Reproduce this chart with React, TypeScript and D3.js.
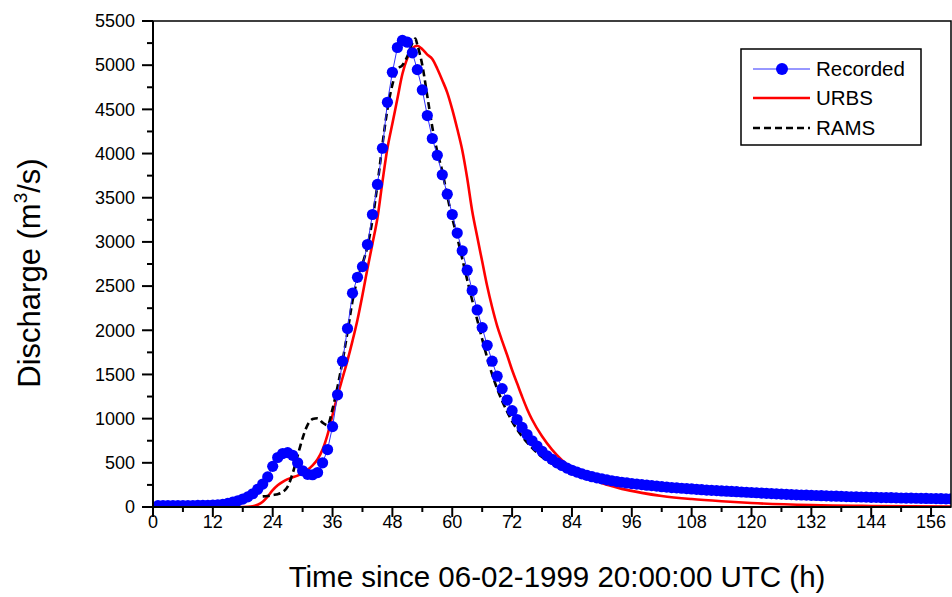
import React from "react";
import * as d3 from "d3";

// ---------- DATA ----------
const recordedStart = 1; // first hour of the recorded series
const recordedQ: number[] = [
  15, 15, 15, 15, 15, 16, 16, 17, 18, 19,
  20, 22, 25, 30, 40, 55, 70, 90, 115, 150,
  200, 260, 340, 460, 560, 605, 615, 585, 500, 410,
  370, 365, 390, 500, 650, 910, 1270, 1650, 2020, 2420,
  2600, 2720, 2970, 3310, 3650, 4060, 4580, 4920, 5200, 5280,
  5260, 5140, 4950, 4720, 4430, 4170, 3980, 3760, 3540, 3310,
  3100, 2900, 2680, 2450, 2230, 2030, 1830, 1650, 1480, 1340,
  1210, 1090, 990, 900, 820, 750, 690, 630, 580, 540,
  500, 470, 440, 415, 395, 375, 358, 343, 330, 318,
  307, 297, 288, 280, 272, 265, 259, 253, 247, 242,
  236, 230, 225, 220, 216, 212, 208, 204, 200, 196,
  192, 188, 185, 182, 179, 176, 173, 170, 167, 164,
  161, 158, 155, 152, 149, 146, 143, 141, 138, 136,
  134, 132, 130, 128, 126, 124, 122, 120, 118, 116,
  115, 113, 112, 110, 109, 107, 106, 105, 104, 102,
  101, 100, 99, 98, 97, 96, 95, 94, 93, 92,
];

const urbsT: number[] = [
  0, 17, 19, 20, 21, 22, 23, 24, 25, 26, 27, 28, 29, 30, 31, 32, 33, 34, 35, 36,
  37, 38, 39, 40, 41, 42, 43, 44, 45, 46, 47, 48, 49, 50, 51, 52, 53, 54, 55, 56,
  57, 58, 59, 60, 61, 62, 63, 64, 65, 66, 67, 68, 69, 70, 71, 72, 73, 74, 75, 76,
  78, 80, 82, 84, 86, 88, 90, 94, 98, 102, 108, 114, 120, 132, 144, 160,
];
const urbsQ: number[] = [
  0, 0, 2, 8, 25, 60, 120, 190, 245, 285, 315, 335, 355, 385, 420, 470, 540, 650, 820, 1040,
  1260, 1460, 1660, 1880, 2120, 2400, 2700, 2980, 3270, 3680, 4060, 4340, 4620, 4900, 5080, 5190, 5220, 5180, 5120, 5070,
  4960, 4830, 4690, 4500, 4280, 4040, 3720, 3350, 3060, 2780, 2500, 2260, 2050, 1880, 1720, 1550, 1400, 1250, 1110, 990,
  800, 650, 530, 440, 370, 315, 270, 205, 160, 125, 90, 65, 45, 22, 12, 6,
];

const ramsT: number[] = [
  22, 23, 24, 25, 26, 27, 28, 29, 30, 31, 32, 33, 34, 35, 36, 37, 38, 39, 40, 41,
  42, 43, 44, 45, 46, 47, 48, 49, 50, 51, 52, 52.6, 53, 54, 55, 56, 57, 58, 59, 60,
  61, 62, 63, 64, 65, 66, 67, 68, 69, 70, 71, 72, 74, 76, 78, 80, 82, 84, 88, 92,
  96, 102, 108, 120, 132, 144, 160,
];
const ramsQ: number[] = [
  120, 125, 135, 145, 170, 230, 380, 580, 780, 930, 995, 1005, 955, 925, 1110, 1360, 1650, 1980, 2330, 2580,
  2750, 2950, 3250, 3650, 4100, 4500, 4780, 4950, 5000, 5100, 5250, 5300, 5230, 5000, 4650, 4300, 4020, 3800, 3520, 3270,
  3050, 2810, 2570, 2340, 2120, 1900, 1690, 1500, 1340, 1200, 1080, 970, 800, 670, 565, 490, 435, 390, 330, 285,
  250, 210, 180, 140, 115, 100, 85,
];

const xTicks: number[] = [0, 12, 24, 36, 48, 60, 72, 84, 96, 108, 120, 132, 144, 156];
const yTicks: number[] = [0, 500, 1000, 1500, 2000, 2500, 3000, 3500, 4000, 4500, 5000, 5500];
const xMinorTicks: number[] = [6, 18, 30, 42, 54, 66, 78, 90, 102, 114, 126, 138, 150];
const yMinorTicks: number[] = [250, 750, 1250, 1750, 2250, 2750, 3250, 3750, 4250, 4750, 5250];

const seriesNames = ["Recorded", "URBS", "RAMS"];
const xTitle = "Time since 06-02-1999 20:00:00 UTC (h)";

// ---------- LAYOUT ----------
const W = 952;
const H = 597;
const left = 153;
const right = 951;
const top = 21;
const bottom = 507;
const FONT = "'Liberation Sans', Arial, sans-serif";

export default function App() {
  const x = d3.scaleLinear().domain([0, 160]).range([left, right]);
  const y = d3.scaleLinear().domain([0, 5500]).range([bottom, top]);

  const recPts: [number, number][] = recordedQ.map((q, i) => [recordedStart + i, q]);
  const urbsPts: [number, number][] = urbsT.map((t, i) => [t, urbsQ[i]]);
  const ramsPts: [number, number][] = ramsT.map((t, i) => [t, ramsQ[i]]);

  const smooth = d3
    .line<[number, number]>()
    .x((d) => x(d[0]))
    .y((d) => y(d[1]))
    .curve(d3.curveMonotoneX);
  const straight = d3
    .line<[number, number]>()
    .x((d) => x(d[0]))
    .y((d) => y(d[1]));

  const legX0 = 753;
  const legX1 = 810;
  const legYs = [69, 98, 128];

  return (
    <svg
      width={W}
      height={H}
      style={{ position: "absolute", left: 0, top: 0, background: "#fff" }}
      fontFamily={FONT}
    >
      <defs>
        <clipPath id="plotclip">
          <rect x={left} y={top} width={right - left} height={bottom - top} />
        </clipPath>
      </defs>

      <g clipPath="url(#plotclip)">
        <path d={smooth(urbsPts) || ""} fill="none" stroke="#ff0000" strokeWidth={2.6} />
        <path
          d={smooth(ramsPts) || ""}
          fill="none"
          stroke="#000"
          strokeWidth={2.6}
          strokeDasharray="7,4"
        />
        <path d={straight(recPts) || ""} fill="none" stroke="#3030ff" strokeWidth={1} />
        {recPts.map((d, i) => (
          <circle key={i} cx={x(d[0])} cy={y(d[1])} r={5.6} fill="#0000ff" />
        ))}
      </g>

      {/* frame */}
      <rect
        x={left}
        y={top}
        width={right - left}
        height={bottom - top}
        fill="none"
        stroke="#000"
        strokeWidth={1.5}
      />
      <line x1={left} x2={left} y1={top} y2={bottom + 1} stroke="#000" strokeWidth={2} />
      <line x1={left - 1} x2={right} y1={bottom} y2={bottom} stroke="#000" strokeWidth={2} />

      {/* x ticks */}
      {xTicks.map((t) => (
        <g key={"xt" + t}>
          <line x1={x(t)} x2={x(t)} y1={bottom} y2={bottom + 10} stroke="#000" strokeWidth={2} />
          <text x={x(t)} y={528} fontSize={18} textAnchor="middle" fill="#000">
            {t}
          </text>
        </g>
      ))}
      {xMinorTicks.map((t) => (
        <line key={"xm" + t} x1={x(t)} x2={x(t)} y1={bottom} y2={bottom + 5} stroke="#000" strokeWidth={2} />
      ))}

      {/* y ticks */}
      {yTicks.map((v) => (
        <g key={"yt" + v}>
          <line x1={left - 11} x2={left} y1={y(v)} y2={y(v)} stroke="#000" strokeWidth={2} />
          <text x={135} y={y(v)} dy="0.35em" fontSize={18} textAnchor="end" fill="#000">
            {v}
          </text>
        </g>
      ))}
      {yMinorTicks.map((v) => (
        <line key={"ym" + v} x1={left - 6} x2={left} y1={y(v)} y2={y(v)} stroke="#000" strokeWidth={2} />
      ))}

      {/* axis titles */}
      <text x={557} y={587} fontSize={29.5} textAnchor="middle" fill="#000">
        {xTitle}
      </text>
      <text
        transform={`translate(40, 273) rotate(-90)`}
        fontSize={31}
        textAnchor="middle"
        fill="#000"
      >
        Discharge (m
        <tspan fontSize={19} dy={-13}>
          3
        </tspan>
        <tspan dy={13}>/s)</tspan>
      </text>

      {/* legend */}
      <rect x={741} y={49} width={180} height={96} fill="#fff" stroke="#000" strokeWidth={1.5} />
      <line x1={legX0} x2={legX1} y1={legYs[0]} y2={legYs[0]} stroke="#3030ff" strokeWidth={1} />
      <circle cx={(legX0 + legX1) / 2 + 0.5} cy={legYs[0]} r={6} fill="#0000ff" />
      <line x1={legX0} x2={legX1} y1={legYs[1]} y2={legYs[1]} stroke="#ff0000" strokeWidth={2.6} />
      <line
        x1={legX0}
        x2={legX1}
        y1={legYs[2]}
        y2={legYs[2]}
        stroke="#000"
        strokeWidth={2.6}
        strokeDasharray="7,4"
      />
      {seriesNames.map((s, i) => (
        <text key={s} x={816} y={legYs[i]} dy="0.35em" fontSize={20.5} fill="#000">
          {s}
        </text>
      ))}
    </svg>
  );
}
